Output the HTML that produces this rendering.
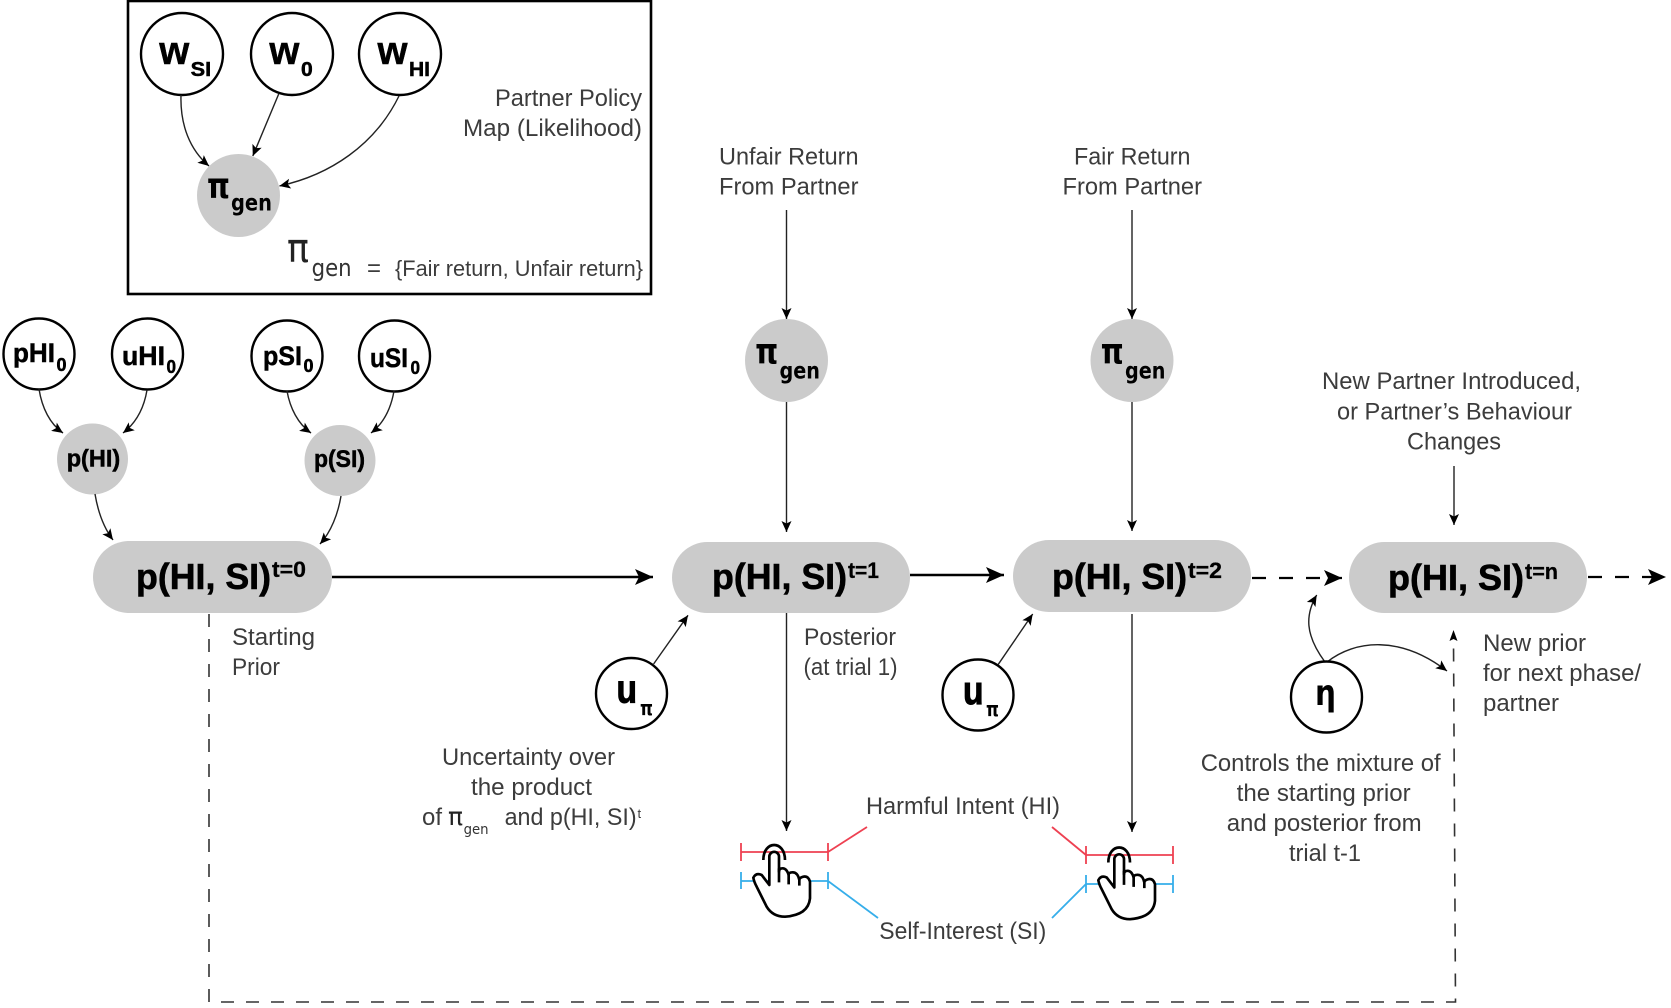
<!DOCTYPE html>
<html><head><meta charset="utf-8"><style>
html,body{margin:0;padding:0;background:#fff;width:1671px;height:1008px;overflow:hidden}
svg{display:block}
text{font-family:"Liberation Sans",sans-serif}
.t{font-size:24px;fill:#3c3c3c}
.b{font-weight:bold;fill:#000;stroke:#000;stroke-width:.5}
.d{font-family:"DejaVu Sans",sans-serif;font-weight:bold;fill:#000}
.p{font-size:36px;font-weight:bold;fill:#000;stroke:#000;stroke-width:.6}
.s{font-size:22px;font-weight:bold;fill:#000;stroke:#000;stroke-width:.3}
.c{fill:#fff;stroke:#000;stroke-width:2.4}
.g{fill:#cbcbcb}
.a{fill:none;stroke:#222;stroke-width:1.4;marker-end:url(#h)}
.A{fill:none;stroke:#000;stroke-width:2.6;marker-end:url(#H)}
.D{fill:none;stroke:#000;stroke-width:2.2;stroke-dasharray:14 13;marker-end:url(#H)}
.k{fill:none;stroke:#333;stroke-width:1.6;stroke-dasharray:13 12}
.r{stroke:#ee4152;stroke-width:1.8;fill:none}
.u{stroke:#36aeea;stroke-width:1.8;fill:none}
</style></head><body>
<svg width="1671" height="1008" viewBox="0 0 1671 1008" xmlns="http://www.w3.org/2000/svg">
<defs>
<marker id="h" markerUnits="userSpaceOnUse" markerWidth="14" markerHeight="12" refX="11" refY="5" orient="auto" overflow="visible"><path d="M0,0 L11,5 L0,10 L2.5,5 z" fill="#000"/></marker>
<marker id="H" markerUnits="userSpaceOnUse" markerWidth="20" markerHeight="18" refX="18" refY="8" orient="auto" overflow="visible"><path d="M0,0 L18,8 L0,16 L4,8 z" fill="#000"/></marker>
<g id="hand">
<path d="M118,150 L118,65 A14.5,14.5 0 0 1 147,65 L147,110 Q147,100 158,100 Q170,100 176,120 Q175,112 188,112 Q203,112 208,135 Q208,128 220,125 Q235,122 240,140 L240,190 Q235,240 165,245 Q128,245 110,215 L80,155 Q72,140 70,128 Q78,112 95,120 Z" fill="#fff" stroke="#000" stroke-width="8" stroke-linejoin="round"/>
<path d="M147,100 L147,142 M176,120 L176,148 M208,135 L208,152" fill="none" stroke="#000" stroke-width="8"/>
<path d="M100,75 C100,15 165,15 165,75" fill="none" stroke="#000" stroke-width="8"/>
</g>
</defs>

<!-- inset box -->
<rect x="128" y="1" width="523" height="293" fill="#fff" stroke="#000" stroke-width="2.6"/>
<circle class="c" cx="182" cy="54" r="41"/><circle class="c" cx="292" cy="54" r="41"/><circle class="c" cx="400" cy="54" r="41"/>
<circle class="g" cx="238.5" cy="195.5" r="41.5"/>
<path class="a" d="M181,95 C180,125 190,150 209,166"/>
<path class="a" d="M278.7,94 L252.8,156"/>
<path class="a" d="M399,96 C375,145 330,175 279.4,186"/>
<text class="b" x="159.3" y="64" font-size="40" textLength="30" lengthAdjust="spacingAndGlyphs">w</text><text class="b" x="190.7" y="76" font-size="20" textLength="20.5" lengthAdjust="spacingAndGlyphs">SI</text>
<text class="b" x="269.4" y="64" font-size="40" textLength="30" lengthAdjust="spacingAndGlyphs">w</text><text class="b" x="301" y="76" font-size="20" textLength="11.7" lengthAdjust="spacingAndGlyphs">0</text>
<text class="b" x="377.5" y="64" font-size="40" textLength="30" lengthAdjust="spacingAndGlyphs">w</text><text class="b" x="409" y="76" font-size="20" textLength="21" lengthAdjust="spacingAndGlyphs">HI</text>
<text class="d" x="207" y="198" font-size="36" textLength="23" lengthAdjust="spacingAndGlyphs">π</text><text class="d" x="231" y="210.7" font-size="23" textLength="41" lengthAdjust="spacingAndGlyphs">gen</text>
<text class="t" x="495" y="106" textLength="147" lengthAdjust="spacingAndGlyphs">Partner Policy</text>
<text class="t" x="463" y="136" textLength="179" lengthAdjust="spacingAndGlyphs">Map (Likelihood)</text>
<text x="287" y="262" font-size="40" fill="#222" textLength="22" lengthAdjust="spacingAndGlyphs" style="font-family:'DejaVu Sans',sans-serif">π</text>
<text x="311.6" y="276" font-size="24" fill="#333" textLength="40" lengthAdjust="spacingAndGlyphs" style="font-family:'DejaVu Sans',sans-serif">gen</text>
<text class="t" x="367" y="276" font-size="24" textLength="14" lengthAdjust="spacingAndGlyphs">=</text>
<text class="t" x="395" y="276" style="font-size:22px" textLength="248" lengthAdjust="spacingAndGlyphs">{Fair return, Unfair return}</text>

<!-- priors -->
<circle class="c" cx="39" cy="354" r="35.5"/><circle class="c" cx="147.5" cy="354" r="35.5"/><circle class="c" cx="287" cy="356" r="35.5"/><circle class="c" cx="394.5" cy="356" r="35.5"/>
<circle class="g" cx="92.5" cy="459" r="35.5"/><circle class="g" cx="340" cy="460.5" r="35.5"/>
<path class="a" d="M39,389 C42,408 50,424 63,433"/>
<path class="a" d="M147,390 C144,408 136,423 123,433"/>
<path class="a" d="M287,391 C290,408 298,424 311,433"/>
<path class="a" d="M394,391 C391,408 384,423 371,433"/>
<path class="a" d="M95,494 C98,512 104,528 113,540"/>
<path class="a" d="M341,496 C338,514 331,532 320,544"/>
<text class="b" x="13" y="362" font-size="27" textLength="42" lengthAdjust="spacingAndGlyphs">pHI</text><text class="b" x="56.5" y="371" font-size="18" textLength="10" lengthAdjust="spacingAndGlyphs">0</text>
<text class="b" x="122" y="365" font-size="27" textLength="43" lengthAdjust="spacingAndGlyphs">uHI</text><text class="b" x="166.5" y="373" font-size="18" textLength="9.5" lengthAdjust="spacingAndGlyphs">0</text>
<text class="b" x="263" y="365" font-size="27" textLength="39" lengthAdjust="spacingAndGlyphs">pSI</text><text class="b" x="303.5" y="372" font-size="18" textLength="10" lengthAdjust="spacingAndGlyphs">0</text>
<text class="b" x="370" y="367" font-size="27" textLength="38" lengthAdjust="spacingAndGlyphs">uSI</text><text class="b" x="410.5" y="374" font-size="18" textLength="9.5" lengthAdjust="spacingAndGlyphs">0</text>
<text class="b" x="66.7" y="466.7" font-size="24" textLength="53.5" lengthAdjust="spacingAndGlyphs">p(HI)</text>
<text class="b" x="314" y="467" font-size="24" textLength="51" lengthAdjust="spacingAndGlyphs">p(SI)</text>

<!-- connectors -->
<path class="k" d="M209,614 L209,1002 L1455.5,1002 L1453.5,640"/>
<path d="M1453.5,630 L1449.5,641 L1453.5,639 L1457.5,641 Z" fill="#000"/>
<path class="A" d="M332,577 L653,577"/>
<path class="A" d="M910,575 L1004,575"/>
<path class="D" d="M1252,578 L1342,578"/>
<path class="D" d="M1588,577 L1666,577"/>
<path class="a" d="M786.5,210 L786.5,319"/>
<path class="a" d="M786.5,402 L786.5,532"/>
<path class="a" d="M1132,210 L1132,319"/>
<path class="a" d="M1132,402 L1132,531"/>
<path class="a" d="M786.5,613 L786.5,831"/>
<path class="a" d="M1132,614 L1132,832"/>
<path class="a" d="M1454,466 L1454,525"/>
<path class="a" d="M653.6,664 L688,615.3"/>
<path class="a" d="M998.3,664.3 L1032.7,614"/>
<path class="a" d="M1325,662 C1305,635 1305,615 1316.7,595"/>
<path class="a" d="M1327,662 C1355,640 1400,635 1447,671"/>

<!-- pills -->
<rect class="g" x="93" y="541" width="239" height="72" rx="36"/>
<rect class="g" x="672" y="542" width="238" height="71" rx="35.5"/>
<rect class="g" x="1013" y="540" width="238" height="72" rx="36"/>
<rect class="g" x="1349" y="542" width="238" height="71" rx="35.5"/>
<text class="p" x="136" y="589" textLength="135" lengthAdjust="spacingAndGlyphs">p(HI, SI)</text><text class="s" x="272" y="577" textLength="34" lengthAdjust="spacingAndGlyphs">t=0</text>
<text class="p" x="712" y="589" textLength="135" lengthAdjust="spacingAndGlyphs">p(HI, SI)</text><text class="s" x="848" y="578" textLength="31" lengthAdjust="spacingAndGlyphs">t=1</text>
<text class="p" x="1052" y="589" textLength="135" lengthAdjust="spacingAndGlyphs">p(HI, SI)</text><text class="s" x="1188" y="578" textLength="34" lengthAdjust="spacingAndGlyphs">t=2</text>
<text class="p" x="1388" y="590" textLength="136" lengthAdjust="spacingAndGlyphs">p(HI, SI)</text><text class="s" x="1525" y="579" textLength="33" lengthAdjust="spacingAndGlyphs">t=n</text>

<!-- pi gen -->
<circle class="g" cx="786.5" cy="360.5" r="41.5"/><circle class="g" cx="1132" cy="360.5" r="41.5"/>
<text class="d" x="755.2" y="363.3" font-size="36" textLength="23" lengthAdjust="spacingAndGlyphs">π</text><text class="d" x="779.5" y="378.3" font-size="23" textLength="40.5" lengthAdjust="spacingAndGlyphs">gen</text>
<text class="d" x="1100.7" y="363.3" font-size="36" textLength="23" lengthAdjust="spacingAndGlyphs">π</text><text class="d" x="1125" y="378.3" font-size="23" textLength="40.5" lengthAdjust="spacingAndGlyphs">gen</text>

<!-- u pi, eta -->
<circle class="c" cx="631.5" cy="693.5" r="35.5"/><circle class="c" cx="978" cy="695" r="35.5"/><circle class="c" cx="1326.5" cy="697" r="35.5"/>
<text class="b" x="616.5" y="702.5" font-size="40" textLength="20.5" lengthAdjust="spacingAndGlyphs" style="stroke-width:1">u</text><text class="d" x="640" y="715" font-size="20" textLength="13" lengthAdjust="spacingAndGlyphs">π</text>
<text class="b" x="963" y="704" font-size="40" textLength="20.5" lengthAdjust="spacingAndGlyphs" style="stroke-width:1">u</text><text class="d" x="986" y="716" font-size="20" textLength="13" lengthAdjust="spacingAndGlyphs">π</text>
<text class="d" x="1315" y="705" font-size="36" textLength="21" lengthAdjust="spacingAndGlyphs">η</text>

<!-- labels -->
<text class="t" x="719" y="164.5" textLength="139.5" lengthAdjust="spacingAndGlyphs">Unfair Return</text>
<text class="t" x="719" y="194.5" textLength="139.5" lengthAdjust="spacingAndGlyphs">From Partner</text>
<text class="t" x="1074" y="164.5" textLength="116.5" lengthAdjust="spacingAndGlyphs">Fair Return</text>
<text class="t" x="1062.5" y="194.5" textLength="139.5" lengthAdjust="spacingAndGlyphs">From Partner</text>
<text class="t" x="1322" y="389" textLength="259" lengthAdjust="spacingAndGlyphs">New Partner Introduced,</text>
<text class="t" x="1337" y="419.5" textLength="235" lengthAdjust="spacingAndGlyphs">or Partner’s Behaviour</text>
<text class="t" x="1407" y="449.5" textLength="94" lengthAdjust="spacingAndGlyphs">Changes</text>
<text class="t" x="232" y="645" textLength="83" lengthAdjust="spacingAndGlyphs">Starting</text>
<text class="t" x="232" y="675" textLength="48" lengthAdjust="spacingAndGlyphs">Prior</text>
<text class="t" x="804" y="645" textLength="92" lengthAdjust="spacingAndGlyphs">Posterior</text>
<text class="t" x="803.5" y="675" textLength="94" lengthAdjust="spacingAndGlyphs">(at trial 1)</text>
<text class="t" x="442" y="765" textLength="173" lengthAdjust="spacingAndGlyphs">Uncertainty over</text>
<text class="t" x="471" y="795" textLength="121" lengthAdjust="spacingAndGlyphs">the product</text>
<text class="t" x="422" y="825" textLength="20" lengthAdjust="spacingAndGlyphs">of</text>
<text x="448" y="825" font-size="25" fill="#222" textLength="15" lengthAdjust="spacingAndGlyphs" style="font-family:'DejaVu Sans',sans-serif">π</text>
<text x="463.6" y="834" font-size="14" fill="#333" textLength="25" lengthAdjust="spacingAndGlyphs" style="font-family:'DejaVu Sans',sans-serif">gen</text>
<text class="t" x="504.6" y="825" textLength="132" lengthAdjust="spacingAndGlyphs">and p(HI, SI)</text>
<text class="t" x="637.5" y="818" style="font-size:13px">t</text>
<text class="t" x="1483" y="651" textLength="103" lengthAdjust="spacingAndGlyphs">New prior</text>
<text class="t" x="1483" y="681" textLength="158" lengthAdjust="spacingAndGlyphs">for next phase/</text>
<text class="t" x="1483" y="711" textLength="76" lengthAdjust="spacingAndGlyphs">partner</text>
<text class="t" x="1200.7" y="771" textLength="240" lengthAdjust="spacingAndGlyphs">Controls the mixture of</text>
<text class="t" x="1236.7" y="801" textLength="174" lengthAdjust="spacingAndGlyphs">the starting prior</text>
<text class="t" x="1226.7" y="831" textLength="195" lengthAdjust="spacingAndGlyphs">and posterior from</text>
<text class="t" x="1289" y="861" textLength="72" lengthAdjust="spacingAndGlyphs">trial t-1</text>
<text class="t" x="866" y="814" textLength="194" lengthAdjust="spacingAndGlyphs">Harmful Intent (HI)</text>
<text class="t" x="879.3" y="939" textLength="167" lengthAdjust="spacingAndGlyphs">Self-Interest (SI)</text>

<!-- sliders -->
<path class="r" d="M741,843 V861 M741,852 H828 M828,843 V861 M828,852 L867,827"/>
<path class="u" d="M741,872 V889 M741,881 H828 M828,872 V889 M828,881 L878,918"/>
<path class="r" d="M1086,846 V864 M1086,855 H1173 M1173,846 V864 M1086,855 L1052,827"/>
<path class="u" d="M1086,875 V893 M1086,884 H1173 M1173,875 V893 M1086,884 L1052,918"/>
<use href="#hand" transform="translate(730,835) scale(0.3333)"/>
<use href="#hand" transform="translate(1075,837.5) scale(0.3333)"/>
</svg>
</body></html>
